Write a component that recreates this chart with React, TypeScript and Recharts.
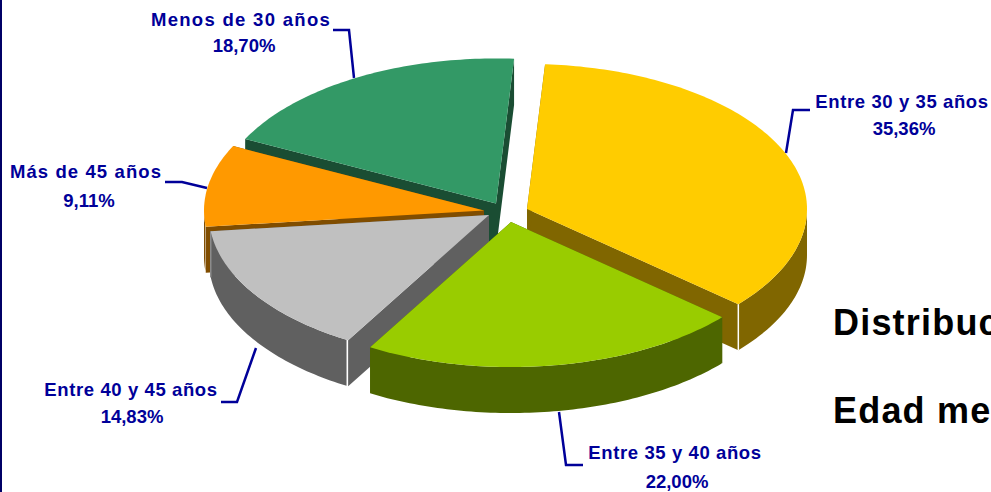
import { PieChart, Pie } from "recharts";

// painter's order: back slices first, lime last
const categories = ["Entre 30 y 35 años", "Menos de 30 años", "Más de 45 años", "Entre 40 y 45 años", "Entre 35 y 40 años"];
const shares = [35.36, 18.7, 9.11, 14.83, 22.0];
const topColors = ["#ffcc00", "#339966", "#ff9900", "#c0c0c0", "#99cc00"];
const sideColors = ["#806600", "#1a4d33", "#804d00", "#606060", "#4d6600"];
const edgeColors = ["#ffffff", "none", "none", "#8c8c8c", "none"];
// how far each slice is pulled out of the pie centre
const explodeX = [28, -3, -15, -10, 12];
const explodeY = [-2, -7.5, -0.5, 4, 11];

const data = categories.map((name, i) => ({
  name,
  value: shares[i],
  fill: topColors[i],
  side: sideColors[i],
  edge: edgeColors[i],
  explodeX: explodeX[i],
  explodeY: explodeY[i],
}));

const NAVY = "#000099";
const SQUASH = 0.518;
const DEPTH = 46;
const RAD = Math.PI / 180;

// text anchors and leader lines for each label, same order as categories
const labelLayout = [
  { x1: 902, y1: 108, x2: 904, y2: 135, spacing: 0.6, leader: "810,110 793,110 786,153" },
  { x1: 241, y1: 26, x2: 244, y2: 52, spacing: 1.3, leader: "333,30 349,30 354,78" },
  { x1: 86, y1: 178, x2: 89, y2: 207, spacing: 1.1, leader: "165,182 182,182 207,188" },
  { x1: 131, y1: 396, x2: 132, y2: 423, spacing: 0.6, leader: "221,402 237,402 256,348" },
  { x1: 675, y1: 459, x2: 677, y2: 488, spacing: 0.6, leader: "559,412 566,465 583,465" },
];

function SliceShape(props: any) {
  const { cx, cy, outerRadius: r, startAngle, endAngle, fill } = props;
  const side = props.side ?? props.payload?.side;
  const edge = props.edge ?? props.payload?.edge;
  const ox = props.explodeX ?? props.payload?.explodeX ?? 0;
  const oy = props.explodeY ?? props.payload?.explodeY ?? 0;
  const a0 = Math.min(startAngle, endAngle);
  const a1 = Math.max(startAngle, endAngle);
  const ax = cx + ox;
  const ay = cy + oy;
  const px = (deg: number) => ax + r * Math.cos(deg * RAD);
  const py = (deg: number) => ay - r * SQUASH * Math.sin(deg * RAD);

  const rim: string[] = [];
  for (let d = a0; d <= a1; d += 1) {
    if (Math.sin(d * RAD) <= 0) rim.push(`${px(d)},${py(d)}`);
  }
  const rimBottom = rim
    .slice()
    .reverse()
    .map((s) => {
      const [x, y] = s.split(",").map(Number);
      return `${x},${y + DEPTH}`;
    });

  const face = (deg: number) =>
    `${ax},${ay} ${px(deg)},${py(deg)} ${px(deg)},${py(deg) + DEPTH} ${ax},${ay + DEPTH}`;

  const top: string[] = [`${ax},${ay}`];
  for (let d = a0; d < a1; d += 1) top.push(`${px(d)},${py(d)}`);
  top.push(`${px(a1)},${py(a1)}`);

  return (
    <g>
      <polygon points={face(a0)} fill={side} />
      <polygon points={face(a1)} fill={side} />
      {rim.length > 1 && <polygon points={[...rim, ...rimBottom].join(" ")} fill={side} />}
      {edge !== "none" && (
        <line x1={px(a0)} y1={py(a0)} x2={px(a0)} y2={py(a0) + DEPTH} stroke={edge} strokeWidth={1.5} />
      )}
      <polygon points={top.join(" ")} fill={fill} />
    </g>
  );
}

function renderLabel(props: any) {
  const i = props.index;
  const l = labelLayout[i];
  const pct = shares[i].toFixed(2).replace(".", ",") + "%";
  const textStyle = { fontFamily: "Liberation Sans", fontSize: 18.5, fontWeight: 700, fill: NAVY };
  return (
    <g key={i}>
      <polyline points={l.leader} fill="none" stroke={NAVY} strokeWidth={2.5} />
      <text x={l.x1} y={l.y1} textAnchor="middle" style={textStyle} letterSpacing={l.spacing}>
        {categories[i]}
      </text>
      <text x={l.x2} y={l.y2} textAnchor="middle" style={textStyle}>
        {pct}
      </text>
    </g>
  );
}

const titleStyle = { fontFamily: "Liberation Sans", fontSize: 36, fontWeight: 700, fill: "#000", letterSpacing: 1.2 };

export default function App() {
  return (
    <div style={{ position: "absolute", left: 0, top: 0, width: 991, height: 492, overflow: "hidden", background: "#fff" }}>
      <div style={{ position: "absolute", left: 0, top: 0, width: 2, height: 492, background: "#000066" }} />
      <PieChart width={991} height={492} margin={{ top: 0, right: 0, bottom: 0, left: 0 }}>
        <Pie
          data={data}
          dataKey="value"
          nameKey="name"
          cx={499}
          cy={211}
          innerRadius={0}
          outerRadius={280}
          startAngle={-41}
          endAngle={319}
          stroke="none"
          labelLine={false}
          label={renderLabel}
          shape={SliceShape}
          isAnimationActive={false}
        />
        <text x={833} y={335} style={titleStyle}>
          Distribución
        </text>
        <text x={833} y={423} style={titleStyle}>
          Edad media
        </text>
      </PieChart>
    </div>
  );
}
